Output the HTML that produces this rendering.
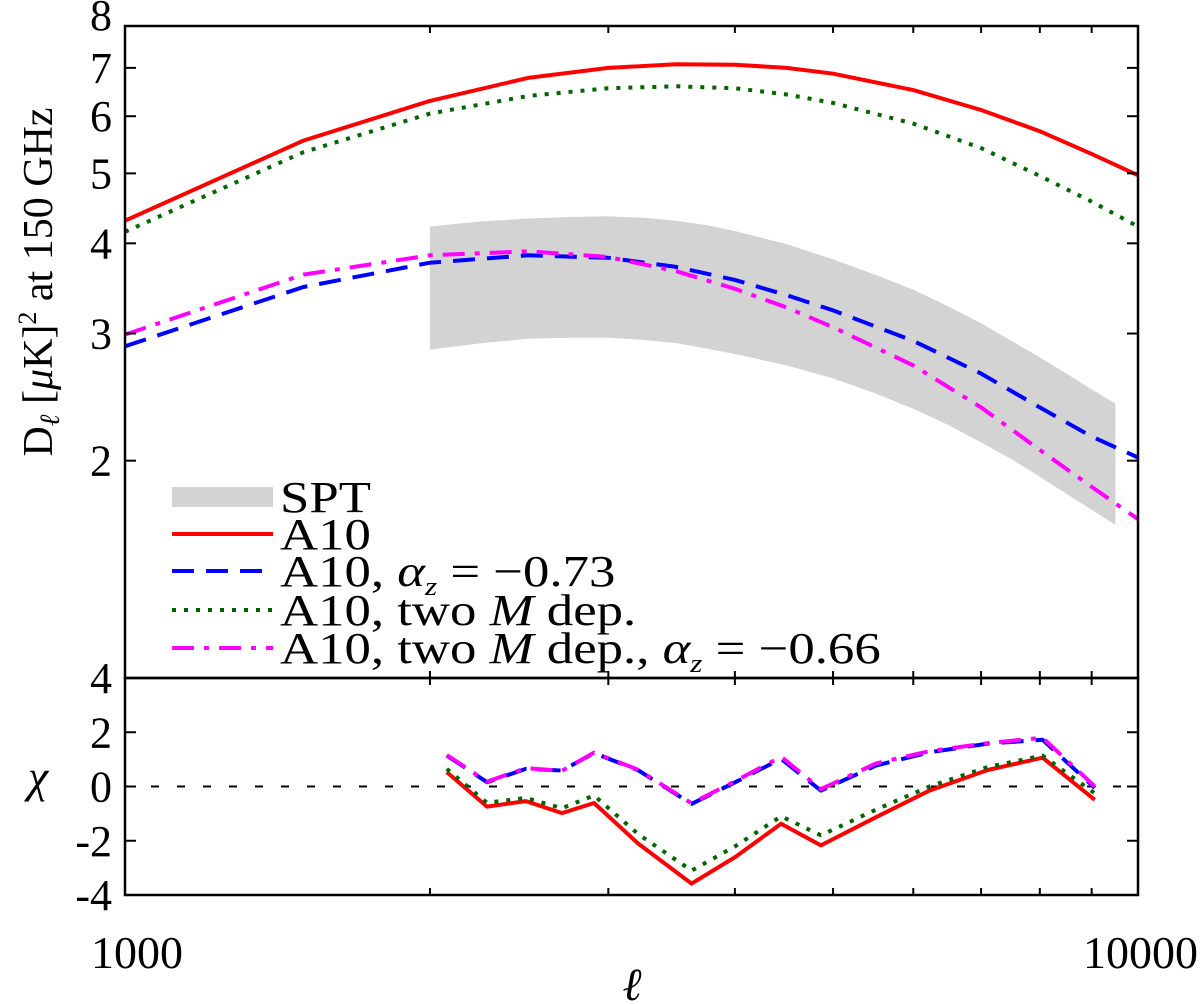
<!DOCTYPE html>
<html><head><meta charset="utf-8">
<style>
html,body{margin:0;padding:0;background:#fff;}
svg{display:block;}
text{font-family:"Liberation Serif","DejaVu Serif",serif;fill:#000;}
</style></head>
<body>
<svg id="chart" width="1200" height="1004" viewBox="0 0 1200 1004" xmlns="http://www.w3.org/2000/svg">
<rect x="0" y="0" width="1200" height="1004" fill="#fff"/>
<g id="band"></g>
<g id="lines"></g>
<g id="axes"></g>
<g id="legend"></g>
<text transform="translate(52,282) rotate(-90)" text-anchor="middle" font-size="42">D<tspan font-style="italic" font-size="28" dy="7">ℓ</tspan><tspan dy="-7"> [</tspan><tspan font-style="italic">μ</tspan>K]<tspan font-size="26" dy="-16">2</tspan><tspan dy="16"> at 150 GHz</tspan></text>
<text x="38" y="792" text-anchor="middle" font-size="46" font-style="italic">χ</text>
<text x="632" y="1000" text-anchor="middle" font-size="46" font-style="italic">ℓ</text>
</svg>
<script>
// ---- data ----
const ellTop = [1000,1500,2000,2500,3000,3500,4000,4500,5000,6000,7000,8000,9000,10000];
const redTop = [4.3,5.55,6.3,6.78,7.0,7.08,7.07,7.0,6.87,6.52,6.12,5.72,5.32,4.97];
const greenTop = [4.15,5.35,6.05,6.4,6.56,6.6,6.56,6.43,6.26,5.86,5.42,4.96,4.57,4.22];
const blueTop = [2.88,3.48,3.76,3.85,3.82,3.71,3.56,3.39,3.23,2.93,2.64,2.37,2.16,2.02];
const magentaTop = [2.99,3.62,3.85,3.9,3.83,3.66,3.46,3.26,3.06,2.71,2.37,2.07,1.84,1.66];
const ellBand = [2000,2250,2500,2750,3000,3250,3500,3750,4000,4500,5000,5500,6000,6500,7000,7500,8000,8500,9000,9500];
const bandUpper = [4.22,4.29,4.33,4.35,4.36,4.34,4.3,4.24,4.16,3.99,3.8,3.62,3.45,3.27,3.1,2.93,2.78,2.64,2.51,2.4];
const bandLower = [2.85,2.91,2.95,2.96,2.96,2.94,2.91,2.86,2.81,2.71,2.6,2.48,2.36,2.24,2.12,2.01,1.9,1.8,1.71,1.63];
const ellChi = [2078,2277,2487,2700,2904,3210,3625,4004,4443,4864,5513,6224,7108,8050,9064];
const redChi = [0.53,-0.74,-0.54,-0.98,-0.61,-2.1,-3.58,-2.6,-1.37,-2.17,-1.13,-0.15,0.61,1.06,-0.49];
const greenChi = [0.65,-0.6,-0.42,-0.8,-0.33,-1.75,-3.1,-2.2,-1.1,-1.8,-0.85,0.0,0.72,1.14,-0.25];
const blueChi = [1.14,0.16,0.65,0.59,1.23,0.6,-0.64,0.16,1.02,-0.15,0.77,1.26,1.58,1.72,-0.05];
const magentaChi = [1.16,0.18,0.68,0.58,1.25,0.62,-0.62,0.2,1.1,-0.1,0.85,1.3,1.6,1.8,0.0];
const topTicks = [2,3,4,5,6,7,8];
const chiTicks = [-4,-2,0,2,4];
const xMajor = [1000,10000];
const xMinor = [2000,3000,4000,5000,6000,7000,8000,9000];

// ---- scales ----
const X0=125, X1=1138, TOP0=26, TOP1=678, BOT0=678, BOT1=895;
const NS='http://www.w3.org/2000/svg';
function xs(l){return X0+(X1-X0)*Math.log10(l/1000);}
function ysTop(v){return TOP1-(TOP1-TOP0)*Math.log10(v)/Math.log10(8);}
function ysChi(v){return BOT0+(BOT1-BOT0)*(4-v)/8;}
function mk(tag,attrs,parent){const e=document.createElementNS(NS,tag);for(const k in attrs)e.setAttribute(k,attrs[k]);parent.appendChild(e);return e;}
const band=document.getElementById('band'),lines=document.getElementById('lines'),axes=document.getElementById('axes'),legend=document.getElementById('legend');

// band
let d='';
ellBand.forEach((l,i)=>{d+=(i?'L':'M')+xs(l).toFixed(1)+','+ysTop(bandUpper[i]).toFixed(1);});
for(let i=ellBand.length-1;i>=0;i--){d+='L'+xs(ellBand[i]).toFixed(1)+','+ysTop(bandLower[i]).toFixed(1);}
d+='Z';
const bp=mk('path',{d:d,fill:'#d3d3d3',stroke:'none'},band);



// zero line
const zl=mk('line',{x1:X0,x2:X1,y1:ysChi(0),y2:ysChi(0),stroke:'#000','stroke-width':2,'stroke-dasharray':'8,18'},lines);



const styles={
 red:{stroke:'#ff0000',w:4,dash:''},
 blue:{stroke:'#0000ff',w:4,dash:'22,12'},
 green:{stroke:'#006400',w:4,dash:'4,8'},
 magenta:{stroke:'#ff00ff',w:4,dash:'22,10,5,10'}
};
function series(xsArr,ysArr,ysFn,st,clip){
 let p='';xsArr.forEach((l,i)=>{p+=(i?'L':'M')+xs(l).toFixed(1)+','+ysFn(ysArr[i]).toFixed(1);});
 const a={d:p,fill:'none',stroke:st.stroke,'stroke-width':st.w,'stroke-linejoin':'round'};
 if(st.dash)a['stroke-dasharray']=st.dash;
 if(clip)a['clip-path']=clip;
 return mk('path',a,lines);
}
const defs=mk('defs',{},document.getElementById('chart'));
const cp1=mk('clipPath',{id:'cTop'},defs);mk('rect',{x:X0,y:TOP0,width:X1-X0,height:TOP1-TOP0},cp1);
let s;
s=series(ellTop,redTop,ysTop,styles.red,'url(#cTop)');


s=series(ellTop,blueTop,ysTop,styles.blue,'url(#cTop)');


s=series(ellTop,greenTop,ysTop,styles.green,'url(#cTop)');


s=series(ellTop,magentaTop,ysTop,styles.magenta,'url(#cTop)');


s=series(ellChi,redChi,ysChi,styles.red);


s=series(ellChi,greenChi,ysChi,styles.green);


s=series(ellChi,blueChi,ysChi,styles.blue);


s=series(ellChi,magentaChi,ysChi,styles.magenta);



// frames
let f=mk('rect',{x:X0,y:TOP0,width:X1-X0,height:TOP1-TOP0,fill:'none',stroke:'#000','stroke-width':2.5},axes);


f=mk('rect',{x:X0,y:BOT0,width:X1-X0,height:BOT1-BOT0,fill:'none',stroke:'#000','stroke-width':2.5},axes);



// y ticks top
topTicks.forEach(v=>{
 const y=ysTop(v);
 let t=mk('line',{x1:X0,x2:X0+11,y1:y,y2:y,stroke:'#000','stroke-width':2},axes);
 
 
 t=mk('line',{x1:X1-11,x2:X1,y1:y,y2:y,stroke:'#000','stroke-width':2},axes);
 
 
 const tx=mk('text',{x:112,y:(v===8?30:y+15),'text-anchor':'end','font-size':44},axes);
 tx.textContent=v;
 
 
});
chiTicks.forEach(v=>{
 const y=ysChi(v);
 let t=mk('line',{x1:X0,x2:X0+11,y1:y,y2:y,stroke:'#000','stroke-width':2},axes);
 
 
 t=mk('line',{x1:X1-11,x2:X1,y1:y,y2:y,stroke:'#000','stroke-width':2},axes);
 
 
 const tx=mk('text',{x:112,y:y+15,'text-anchor':'end','font-size':44},axes);
 tx.textContent=String(v);
 
 
});
xMinor.forEach(l=>{
 const x=xs(l);
 [[TOP0,TOP0+7],[TOP1-7,TOP1+7],[BOT1-7,BOT1]].forEach((yy,j)=>{
  const t=mk('line',{x1:x,x2:x,y1:yy[0],y2:yy[1],stroke:'#000','stroke-width':2},axes);
  
  
 });
});
xMajor.forEach((l,i)=>{
 const tx=mk('text',{x:(i===0?xs(l)+12:1198),y:968,'text-anchor':(i===0?'middle':'end'),'font-size':46},axes);
 tx.textContent=l;
 
 
});

// legend
const legItems=[
 {label:'SPT',type:'band',y:497,name:'legend-spt'},
 {label:'A10',type:'red',y:534,name:'legend-a10'},
 {label:'A10, <tspan font-style="italic">α</tspan><tspan font-style="italic" font-size="26" dy="9">z</tspan><tspan dy="-9"> = −0.73</tspan>',type:'blue',y:571,name:'legend-a10-alpha-z'},
 {label:'A10, two <tspan font-style="italic">M</tspan> dep.',type:'green',y:610,name:'legend-a10-two-m-dep'},
 {label:'A10, two <tspan font-style="italic">M</tspan> dep., <tspan font-style="italic">α</tspan><tspan font-style="italic" font-size="26" dy="9">z</tspan><tspan dy="-9"> = −0.66</tspan>',type:'magenta',y:648,name:'legend-a10-two-m-dep-alpha-z'}
];
legItems.forEach(it=>{
 const g=mk('g',{},legend);
 
 
 if(it.type==='band'){mk('rect',{x:172,y:it.y-10,width:101,height:20,fill:'#d3d3d3'},g);}
 else{const st=styles[it.type];const a={x1:172,x2:273,y1:it.y,y2:it.y,stroke:st.stroke,'stroke-width':st.w};if(st.dash)a['stroke-dasharray']=st.dash;mk('line',a,g);}
 const t=mk('text',{x:280,y:it.y+15,'font-size':44,transform:'translate(280,0) scale(1.2,1) translate(-280,0)'},g);
 t.innerHTML=it.label;
});
</script>
</body></html>
